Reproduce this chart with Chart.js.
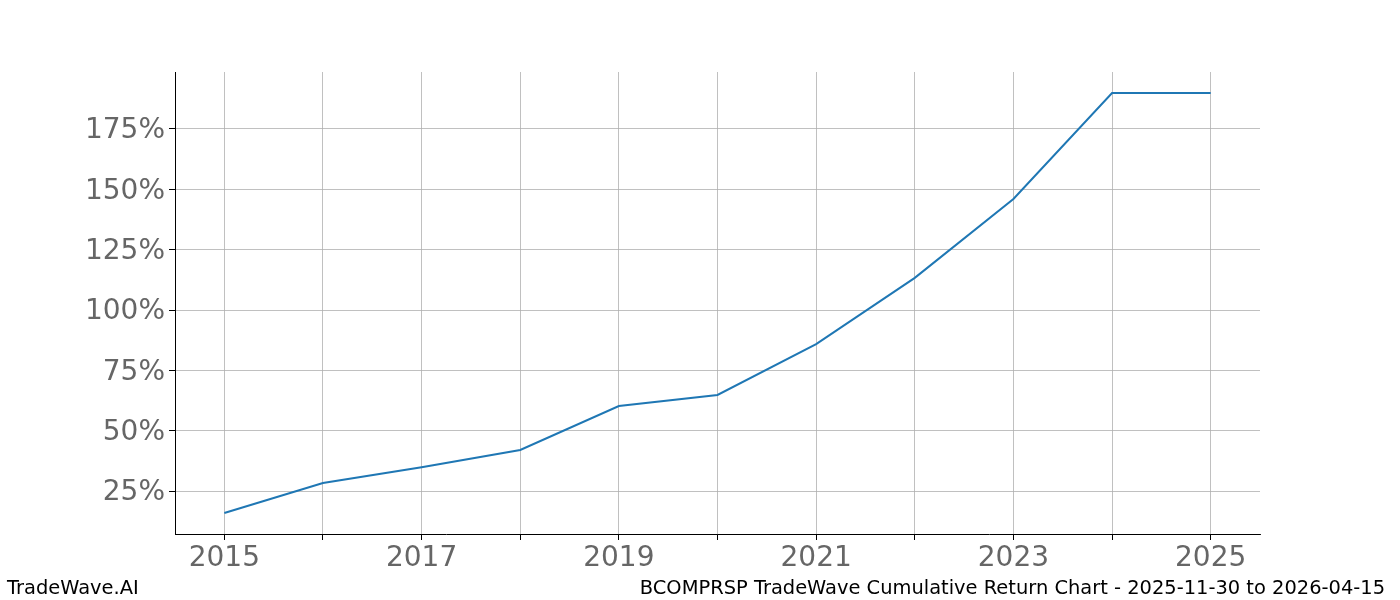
<!DOCTYPE html>
<html>
<head>
<meta charset="utf-8">
<script src="https://cdn.jsdelivr.net/npm/chart.js@4.4.1/dist/chart.umd.min.js"></script>
<style>
  html, body { margin: 0; padding: 0; background: #fff; }
  #wrap { width: 1400px; height: 600px; }
</style>
</head>
<body>
<div id="wrap"><canvas id="returns-chart" width="1400" height="600"></canvas></div>
<script>
"use strict";

var years = [2015, 2016, 2017, 2018, 2019, 2020, 2021, 2022, 2023, 2024, 2025];
var cumulativeReturn = [15.9, 28.3, 34.9, 42.0, 60.2, 64.8, 85.9, 113.3, 146.0, 189.9, 189.9];
var yTicks = [25, 50, 75, 100, 125, 150, 175];
var xTicks = [2015, 2016, 2017, 2018, 2019, 2020, 2021, 2022, 2023, 2024, 2025];
var xLabelYears = [2015, 2017, 2019, 2021, 2023, 2025];
var footerLeft = "TradeWave.AI";
var footerRight = "BCOMPRSP TradeWave Cumulative Return Chart - 2025-11-30 to 2026-04-15";

var tickFont = { family: "'DejaVu Sans', sans-serif", size: 28 };

var footerPlugin = {
  id: "footer",
  afterDraw: function(chart) {
    var ctx = chart.ctx;
    ctx.save();
    ctx.font = "19.45px 'DejaVu Sans', sans-serif";
    ctx.fillStyle = "#000";
    ctx.textBaseline = "alphabetic";
    ctx.textAlign = "left";
    ctx.fillText(footerLeft, 7, 594);
    ctx.textAlign = "right";
    ctx.fillText(footerRight, 1385, 594);
    ctx.restore();
  }
};

function renderChart() {
  var points = years.map(function(y, i) {
    return { x: y, y: cumulativeReturn[i] };
  });
  var elem = document.getElementById("returns-chart").getContext("2d");
  new Chart(elem, {
    type: "line",
    data: {
      datasets: [
        {
          data: points,
          borderColor: "#1f77b4",
          borderWidth: 2,
          pointRadius: 0,
          fill: false,
          tension: 0
        }
      ]
    },
    options: {
      responsive: false,
      animation: false,
      layout: { padding: { left: 0, right: 140, top: 72, bottom: 0 } },
      plugins: { legend: { display: false }, tooltip: { enabled: false } },
      scales: {
        x: {
          type: "linear",
          min: 2014.5,
          max: 2025.5,
          afterBuildTicks: function(scale) {
            scale.ticks = xTicks.map(function(v) { return { value: v }; });
          },
          afterFit: function(scale) { scale.height = 66; },
          grid: {
            color: "#b0b0b0",
            lineWidth: 0.8,
            tickColor: "#000",
            tickLength: 6,
            tickWidth: 1
          },
          border: { color: "#000", width: 1 },
          ticks: {
            font: tickFont,
            color: "#666666",
            padding: 2,
            maxRotation: 0,
            autoSkip: false,
            callback: function(v) {
              return xLabelYears.indexOf(v) >= 0 ? String(v) : "";
            }
          }
        },
        y: {
          min: 7.2,
          max: 198.6,
          afterBuildTicks: function(scale) {
            scale.ticks = yTicks.map(function(v) { return { value: v }; });
          },
          afterFit: function(scale) { scale.width = 175; },
          grid: {
            color: "#b0b0b0",
            lineWidth: 0.8,
            tickColor: "#000",
            tickLength: 6,
            tickWidth: 1
          },
          border: { color: "#000", width: 1 },
          ticks: {
            font: tickFont,
            color: "#666666",
            padding: 4,
            labelOffset: 2,
            callback: function(v) { return v + "%"; }
          }
        }
      }
    },
    plugins: [footerPlugin]
  });
}

renderChart();
</script>
</body>
</html>
